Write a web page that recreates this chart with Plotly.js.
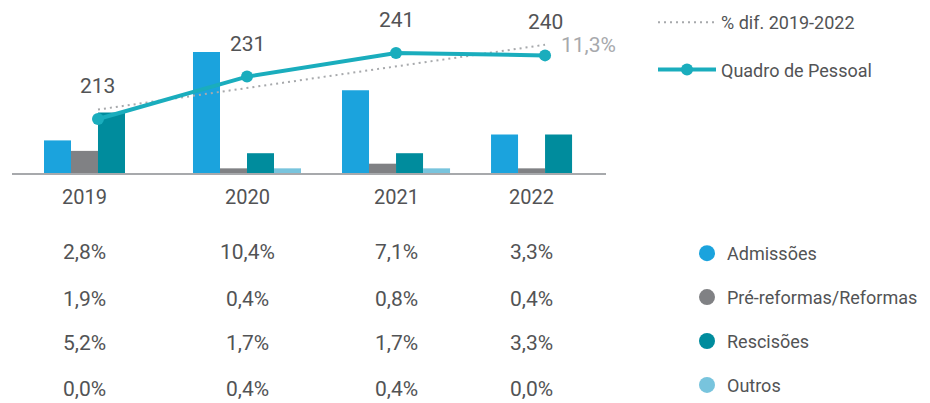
<!DOCTYPE html>
<html>
<head>
<meta charset="utf-8">
<script src="https://cdn.plot.ly/plotly-3.0.1.min.js"></script>
<style>
  html, body { margin: 0; padding: 0; background: #ffffff; }
  #chart { width: 930px; height: 403px; }
</style>
</head>
<body>
<div id="chart"></div>
<script>
// ---- data ----
const years = ['2019', '2020', '2021', '2022'];
const admissoes = [2.8, 10.4, 7.1, 3.3];
const reformas = [1.9, 0.4, 0.8, 0.4];
const rescisoes = [5.2, 1.7, 1.7, 3.3];
const outros = [0.0, 0.4, 0.4, 0.0];
const quadro = [213, 231, 241, 240];
const trendYears = ['2019', '2022'];
const trendValues = [217, 244.5];
const trendLabel = '11,3%';
const seriesNames = ['Admissões', 'Pré-reformas/Reformas', 'Rescisões', 'Outros'];
const lineName = 'Quadro de Pessoal';
const trendName = '% dif. 2019-2022';

// ---- style ----
const colors = ['#1BA3DD', '#808184', '#008C9D', '#78C4DD'];
const lineColor = '#1AADBD';
const trendColor = '#A7A9AC';
const textColor = '#525355';
const FONT = 'Roboto, "Noto Sans", Arial, sans-serif';

const series = [admissoes, reformas, rescisoes, outros];

// plot geometry helpers (pixel -> paper)
const plotTop = 10, plotBottom = 173;
function py(p) { return (plotBottom - p) / (plotBottom - plotTop); }
function px(p) { return (p - 12) / 594; }

const bargap = 0.275;
const barW = (1 - bargap) / series.length;

const traces = [];
series.forEach((s, k) => {
  traces.push({
    type: 'bar', x: years, y: s, name: seriesNames[k],
    marker: { color: colors[k], line: { width: 0 } },
    showlegend: false, hoverinfo: 'x+y+name', yaxis: 'y'
  });
});
// legend entries with round symbols
series.forEach((s, k) => {
  traces.push({
    type: 'scatter', mode: 'markers', x: [null], y: [null], name: seriesNames[k],
    marker: { color: colors[k], size: 16, symbol: 'circle' },
    legend: 'legend2', legendgroup: 'g' + k, showlegend: true, yaxis: 'y'
  });
});
traces.push({
  type: 'scatter', mode: 'lines', x: trendYears, y: trendValues, name: trendName,
  line: { color: trendColor, width: 2, dash: '2px,4px' },
  yaxis: 'y2', legend: 'legend', legendgroup: 'trend', legendrank: 1
});
traces.push({
  type: 'scatter', mode: 'lines+markers', x: years, y: quadro, name: lineName,
  line: { color: lineColor, width: 4 },
  marker: { color: lineColor, size: 12 },
  yaxis: 'y2', legend: 'legend', legendgroup: 'quadro', legendrank: 2
});

const annotations = [];
// value labels above the line
years.forEach((yr, i) => {
  annotations.push({
    x: i, y: quadro[i], xref: 'x', yref: 'y2', text: String(quadro[i]),
    showarrow: false, yshift: 33, xanchor: 'center', yanchor: 'middle',
    font: { family: FONT, size: 21, color: textColor }
  });
});
annotations.push({
  x: 3, y: trendValues[1], xref: 'x', yref: 'y2', text: trendLabel,
  showarrow: false, xanchor: 'left', yanchor: 'middle', xshift: 14,
  font: { family: FONT, size: 21, color: trendColor }
});
// year labels and percentage table, centred on the non-empty bars of each year
const rowsPx = [252, 299, 343, 389];
years.forEach((yr, i) => {
  const n = series.filter(s => s[i] > 0).length;
  const cx = i - (series.length - n) * barW / 2;
  annotations.push({
    x: cx, y: py(197), xref: 'x', yref: 'paper', text: yr, showarrow: false,
    xanchor: 'center', yanchor: 'middle',
    font: { family: FONT, size: 20, color: textColor }
  });
  series.forEach((s, k) => {
    annotations.push({
      x: cx, y: py(rowsPx[k]), xref: 'x', yref: 'paper',
      text: s[i].toFixed(1).replace('.', ',') + '%', showarrow: false,
      xanchor: 'center', yanchor: 'middle',
      font: { family: FONT, size: 21, color: textColor }
    });
  });
});

const layout = {
  width: 930, height: 403,
  margin: { l: 12, r: 324, t: plotTop, b: 403 - plotBottom, pad: 0, autoexpand: false },
  paper_bgcolor: '#ffffff', plot_bgcolor: 'rgba(0,0,0,0)',
  barmode: 'group', bargap: bargap, bargroupgap: 0,
  font: { family: FONT, color: textColor },
  xaxis: {
    type: 'category', categoryorder: 'array', categoryarray: years,
    range: [-0.577, 3.409], showline: true, linecolor: '#A7A9AC', linewidth: 2,
    showticklabels: false, ticks: '', showgrid: false, zeroline: false, fixedrange: true
  },
  yaxis: { range: [0, 14], visible: false, showgrid: false, zeroline: false, fixedrange: true },
  yaxis2: { range: [190.1, 259.25], overlaying: 'y', visible: false, showgrid: false, zeroline: false, fixedrange: true },
  legend: {
    x: px(653), xanchor: 'left', y: py(4), yanchor: 'top',
    itemwidth: 58, tracegroupgap: 21, traceorder: 'grouped',
    font: { family: FONT, size: 18, color: textColor }, bgcolor: 'rgba(0,0,0,0)'
  },
  legend2: {
    x: px(687), xanchor: 'left', y: py(235), yanchor: 'top',
    tracegroupgap: 17.5, traceorder: 'grouped', itemsizing: 'trace',
    font: { family: FONT, size: 18, color: textColor }, bgcolor: 'rgba(0,0,0,0)'
  },
  annotations: annotations,
  showlegend: true
};

Plotly.newPlot('chart', traces, layout, { displayModeBar: false, staticPlot: true });
</script>
</body>
</html>
